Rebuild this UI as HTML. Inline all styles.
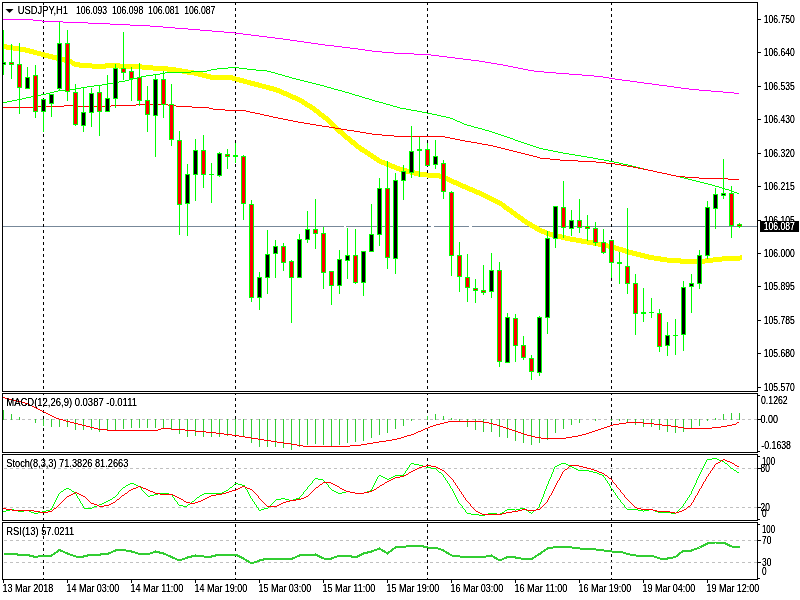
<!DOCTYPE html>
<html><head><meta charset="utf-8"><title>USDJPY,H1</title>
<style>
html,body{margin:0;padding:0;background:#fff;}
body{width:800px;height:600px;overflow:hidden;}
svg{display:block;}
text{font-family:"Liberation Sans",Arial,sans-serif;font-size:10px;}
.tx{filter:url(#tf);}
</style></head><body>
<svg width="800" height="600" viewBox="0 0 800 600">
<rect x="0" y="0" width="800" height="600" fill="#fff"/>
<defs><filter id="tf" x="0" y="0" width="800" height="600" filterUnits="userSpaceOnUse" color-interpolation-filters="sRGB"><feComponentTransfer><feFuncA type="linear" slope="1.55" intercept="-0.08"/></feComponentTransfer></filter><clipPath id="cp"><rect x="3" y="3" width="754" height="577"/></clipPath></defs>
<g clip-path="url(#cp)">
<g shape-rendering="crispEdges">
<rect x="3" y="226" width="757" height="1" fill="#778899"/>
<rect x="344" y="226" width="2" height="1" fill="#fff"/>
<rect x="431" y="226" width="3" height="1" fill="#fff"/>
<rect x="469" y="226" width="3" height="1" fill="#fff"/>
<line x1="43.5" y1="2" x2="43.5" y2="580" stroke="#000" stroke-width="1" stroke-dasharray="3 3"/>
<line x1="235.5" y1="2" x2="235.5" y2="580" stroke="#000" stroke-width="1" stroke-dasharray="3 3"/>
<line x1="427.5" y1="2" x2="427.5" y2="580" stroke="#000" stroke-width="1" stroke-dasharray="3 3"/>
<line x1="611.5" y1="2" x2="611.5" y2="580" stroke="#000" stroke-width="1" stroke-dasharray="3 3"/>
</g>
<g shape-rendering="crispEdges"><path d="M1 44h1v5h-1zM2 44h1v5h-1zM3 44h1v5h-1zM4 44h1v5h-1zM5 44h1v5h-1zM6 44h1v6h-1zM7 45h1v5h-1zM8 45h1v5h-1zM9 45h1v5h-1zM10 45h1v5h-1zM11 45h1v5h-1zM12 45h1v5h-1zM13 46h1v5h-1zM14 46h1v5h-1zM15 46h1v5h-1zM16 46h1v5h-1zM17 46h1v5h-1zM18 46h1v5h-1zM19 47h1v5h-1zM20 47h1v5h-1zM21 47h1v5h-1zM22 47h1v5h-1zM23 47h1v5h-1zM24 47h1v5h-1zM25 47h1v6h-1zM26 48h1v5h-1zM27 48h1v5h-1zM28 48h1v5h-1zM29 48h1v6h-1zM30 49h1v5h-1zM31 49h1v5h-1zM32 49h1v5h-1zM33 49h1v6h-1zM34 50h1v5h-1zM35 50h1v5h-1zM36 50h1v5h-1zM37 51h1v5h-1zM38 51h1v5h-1zM39 51h1v5h-1zM40 51h1v5h-1zM41 52h1v5h-1zM42 52h1v5h-1zM43 52h1v5h-1zM44 52h1v6h-1zM45 53h1v5h-1zM46 53h1v5h-1zM47 53h1v5h-1zM48 53h1v6h-1zM49 54h1v5h-1zM50 54h1v5h-1zM51 54h1v5h-1zM52 54h1v6h-1zM53 55h1v5h-1zM54 55h1v5h-1zM55 55h1v5h-1zM56 55h1v6h-1zM57 56h1v5h-1zM58 56h1v5h-1zM59 56h1v5h-1zM60 56h1v6h-1zM61 57h1v5h-1zM62 57h1v5h-1zM63 57h1v5h-1zM64 57h1v6h-1zM65 58h1v5h-1zM66 58h1v5h-1zM67 58h1v5h-1zM68 58h1v6h-1zM69 59h1v5h-1zM70 59h1v5h-1zM71 59h1v6h-1zM72 60h1v6h-1zM73 61h1v5h-1zM74 61h1v6h-1zM75 62h1v5h-1zM76 62h1v5h-1zM77 62h1v5h-1zM78 62h1v5h-1zM79 62h1v6h-1zM80 63h1v5h-1zM81 63h1v5h-1zM82 63h1v5h-1zM83 63h1v5h-1zM84 63h1v5h-1zM85 63h1v5h-1zM86 63h1v5h-1zM87 63h1v5h-1zM88 63h1v5h-1zM89 63h1v5h-1zM90 63h1v5h-1zM91 63h1v5h-1zM92 64h1v5h-1zM93 64h1v5h-1zM94 64h1v5h-1zM95 64h1v5h-1zM96 64h1v5h-1zM97 64h1v5h-1zM98 64h1v5h-1zM99 64h1v5h-1zM100 64h1v5h-1zM101 64h1v5h-1zM102 64h1v5h-1zM103 64h1v5h-1zM104 64h1v5h-1zM105 63h1v6h-1zM106 63h1v5h-1zM107 63h1v5h-1zM108 63h1v5h-1zM109 63h1v5h-1zM110 63h1v5h-1zM111 63h1v5h-1zM112 63h1v5h-1zM113 63h1v5h-1zM114 63h1v5h-1zM115 63h1v5h-1zM116 63h1v5h-1zM117 63h1v5h-1zM118 63h1v5h-1zM119 63h1v6h-1zM120 64h1v5h-1zM121 64h1v5h-1zM122 64h1v5h-1zM123 64h1v5h-1zM124 64h1v5h-1zM125 64h1v5h-1zM126 64h1v5h-1zM127 64h1v5h-1zM128 64h1v5h-1zM129 64h1v5h-1zM130 64h1v5h-1zM131 64h1v5h-1zM132 64h1v5h-1zM133 64h1v5h-1zM134 64h1v5h-1zM135 64h1v5h-1zM136 64h1v5h-1zM137 64h1v5h-1zM138 64h1v5h-1zM139 64h1v5h-1zM140 64h1v5h-1zM141 64h1v5h-1zM142 65h1v5h-1zM143 65h1v5h-1zM144 65h1v5h-1zM145 65h1v5h-1zM146 65h1v5h-1zM147 65h1v5h-1zM148 65h1v5h-1zM149 65h1v5h-1zM150 65h1v5h-1zM151 65h1v5h-1zM152 65h1v5h-1zM153 66h1v5h-1zM154 66h1v5h-1zM155 66h1v5h-1zM156 66h1v5h-1zM157 66h1v5h-1zM158 66h1v5h-1zM159 66h1v5h-1zM160 66h1v5h-1zM161 66h1v5h-1zM162 66h1v5h-1zM163 66h1v5h-1zM164 66h1v5h-1zM165 66h1v5h-1zM166 66h1v5h-1zM167 66h1v6h-1zM168 67h1v5h-1zM169 67h1v5h-1zM170 67h1v5h-1zM171 67h1v5h-1zM172 67h1v5h-1zM173 67h1v5h-1zM174 67h1v5h-1zM175 67h1v6h-1zM176 68h1v5h-1zM177 68h1v5h-1zM178 68h1v5h-1zM179 68h1v5h-1zM180 68h1v5h-1zM181 68h1v5h-1zM182 69h1v5h-1zM183 69h1v5h-1zM184 69h1v5h-1zM185 69h1v5h-1zM186 69h1v5h-1zM187 69h1v6h-1zM188 70h1v5h-1zM189 70h1v5h-1zM190 70h1v5h-1zM191 70h1v5h-1zM192 70h1v5h-1zM193 70h1v5h-1zM194 71h1v5h-1zM195 71h1v5h-1zM196 71h1v5h-1zM197 71h1v5h-1zM198 71h1v6h-1zM199 72h1v5h-1zM200 72h1v5h-1zM201 72h1v5h-1zM202 72h1v6h-1zM203 73h1v5h-1zM204 73h1v5h-1zM205 73h1v5h-1zM206 73h1v6h-1zM207 74h1v5h-1zM208 74h1v5h-1zM209 74h1v5h-1zM210 74h1v6h-1zM211 75h1v5h-1zM212 75h1v5h-1zM213 75h1v5h-1zM214 75h1v5h-1zM215 75h1v5h-1zM216 75h1v5h-1zM217 75h1v5h-1zM218 75h1v5h-1zM219 75h1v5h-1zM220 75h1v5h-1zM221 75h1v5h-1zM222 75h1v5h-1zM223 75h1v5h-1zM224 75h1v5h-1zM225 75h1v5h-1zM226 75h1v5h-1zM227 75h1v5h-1zM228 75h1v5h-1zM229 75h1v5h-1zM230 75h1v5h-1zM231 75h1v5h-1zM232 75h1v6h-1zM233 76h1v5h-1zM234 76h1v5h-1zM235 76h1v5h-1zM236 77h1v5h-1zM237 77h1v5h-1zM238 77h1v5h-1zM239 77h1v6h-1zM240 78h1v5h-1zM241 78h1v5h-1zM242 78h1v5h-1zM243 78h1v6h-1zM244 79h1v5h-1zM245 79h1v5h-1zM246 79h1v5h-1zM247 80h1v5h-1zM248 80h1v5h-1zM249 80h1v5h-1zM250 80h1v6h-1zM251 81h1v5h-1zM252 81h1v5h-1zM253 81h1v5h-1zM254 81h1v6h-1zM255 82h1v5h-1zM256 82h1v5h-1zM257 82h1v5h-1zM258 82h1v6h-1zM259 83h1v5h-1zM260 83h1v5h-1zM261 83h1v5h-1zM262 84h1v5h-1zM263 84h1v5h-1zM264 84h1v5h-1zM265 84h1v5h-1zM266 85h1v5h-1zM267 85h1v5h-1zM268 85h1v5h-1zM269 85h1v6h-1zM270 86h1v5h-1zM271 86h1v5h-1zM272 86h1v5h-1zM273 86h1v6h-1zM274 87h1v5h-1zM275 87h1v5h-1zM276 87h1v6h-1zM277 88h1v5h-1zM278 88h1v5h-1zM279 88h1v6h-1zM280 89h1v5h-1zM281 89h1v6h-1zM282 90h1v5h-1zM283 90h1v6h-1zM284 91h1v5h-1zM285 91h1v5h-1zM286 91h1v6h-1zM287 92h1v5h-1zM288 92h1v6h-1zM289 93h1v5h-1zM290 93h1v6h-1zM291 94h1v5h-1zM292 94h1v6h-1zM293 95h1v5h-1zM294 95h1v5h-1zM295 95h1v6h-1zM296 96h1v5h-1zM297 96h1v6h-1zM298 97h1v5h-1zM299 97h1v6h-1zM300 98h1v5h-1zM301 98h1v6h-1zM302 99h1v6h-1zM303 99h1v6h-1zM304 100h1v6h-1zM305 101h1v6h-1zM306 101h1v6h-1zM307 102h1v6h-1zM308 103h1v5h-1zM309 103h1v6h-1zM310 104h1v6h-1zM311 104h1v6h-1zM312 105h1v6h-1zM313 106h1v6h-1zM314 106h1v7h-1zM315 107h1v6h-1zM316 108h1v6h-1zM317 109h1v6h-1zM318 109h1v7h-1zM319 110h1v7h-1zM320 111h1v6h-1zM321 112h1v6h-1zM322 113h1v6h-1zM323 113h1v7h-1zM324 114h1v6h-1zM325 115h1v6h-1zM326 116h1v6h-1zM327 116h1v7h-1zM328 117h1v7h-1zM329 118h1v7h-1zM330 119h1v7h-1zM331 120h1v7h-1zM332 121h1v7h-1zM333 122h1v7h-1zM334 123h1v7h-1zM335 124h1v7h-1zM336 125h1v7h-1zM337 126h1v7h-1zM338 127h1v7h-1zM339 128h1v6h-1zM340 129h1v6h-1zM341 130h1v6h-1zM342 130h1v7h-1zM343 131h1v7h-1zM344 132h1v7h-1zM345 133h1v7h-1zM346 134h1v6h-1zM347 135h1v6h-1zM348 136h1v6h-1zM349 136h1v7h-1zM350 137h1v7h-1zM351 138h1v7h-1zM352 139h1v6h-1zM353 140h1v6h-1zM354 140h1v7h-1zM355 141h1v7h-1zM356 142h1v7h-1zM357 143h1v6h-1zM358 144h1v6h-1zM359 145h1v6h-1zM360 145h1v7h-1zM361 146h1v6h-1zM362 147h1v6h-1zM363 147h1v6h-1zM364 148h1v6h-1zM365 149h1v6h-1zM366 149h1v6h-1zM367 150h1v6h-1zM368 151h1v6h-1zM369 151h1v6h-1zM370 152h1v6h-1zM371 153h1v6h-1zM372 153h1v6h-1zM373 154h1v6h-1zM374 155h1v6h-1zM375 155h1v6h-1zM376 156h1v6h-1zM377 157h1v6h-1zM378 157h1v6h-1zM379 158h1v6h-1zM380 159h1v5h-1zM381 159h1v6h-1zM382 160h1v5h-1zM383 160h1v5h-1zM384 160h1v6h-1zM385 161h1v5h-1zM386 161h1v6h-1zM387 162h1v5h-1zM388 162h1v5h-1zM389 162h1v6h-1zM390 163h1v5h-1zM391 163h1v6h-1zM392 164h1v5h-1zM393 164h1v5h-1zM394 164h1v6h-1zM395 165h1v5h-1zM396 165h1v6h-1zM397 166h1v5h-1zM398 166h1v5h-1zM399 166h1v6h-1zM400 167h1v5h-1zM401 167h1v5h-1zM402 167h1v6h-1zM403 168h1v5h-1zM404 168h1v5h-1zM405 168h1v5h-1zM406 168h1v6h-1zM407 169h1v5h-1zM408 169h1v5h-1zM409 169h1v5h-1zM410 169h1v6h-1zM411 170h1v5h-1zM412 170h1v5h-1zM413 170h1v5h-1zM414 170h1v6h-1zM415 171h1v5h-1zM416 171h1v5h-1zM417 171h1v5h-1zM418 171h1v6h-1zM419 172h1v5h-1zM420 172h1v5h-1zM421 172h1v5h-1zM422 172h1v5h-1zM423 172h1v5h-1zM424 172h1v5h-1zM425 172h1v5h-1zM426 172h1v5h-1zM427 173h1v5h-1zM428 173h1v5h-1zM429 173h1v5h-1zM430 173h1v5h-1zM431 173h1v5h-1zM432 173h1v5h-1zM433 173h1v5h-1zM434 173h1v5h-1zM435 173h1v5h-1zM436 173h1v5h-1zM437 173h1v5h-1zM438 173h1v5h-1zM439 173h1v6h-1zM440 174h1v5h-1zM441 174h1v5h-1zM442 174h1v6h-1zM443 175h1v5h-1zM444 175h1v6h-1zM445 176h1v5h-1zM446 176h1v5h-1zM447 176h1v6h-1zM448 177h1v5h-1zM449 177h1v6h-1zM450 178h1v5h-1zM451 178h1v6h-1zM452 179h1v5h-1zM453 179h1v6h-1zM454 180h1v5h-1zM455 180h1v5h-1zM456 180h1v6h-1zM457 181h1v5h-1zM458 181h1v6h-1zM459 182h1v5h-1zM460 182h1v6h-1zM461 183h1v5h-1zM462 183h1v6h-1zM463 184h1v5h-1zM464 184h1v5h-1zM465 184h1v6h-1zM466 185h1v5h-1zM467 185h1v6h-1zM468 186h1v5h-1zM469 186h1v6h-1zM470 187h1v5h-1zM471 187h1v5h-1zM472 187h1v6h-1zM473 188h1v5h-1zM474 188h1v6h-1zM475 189h1v5h-1zM476 189h1v6h-1zM477 190h1v5h-1zM478 190h1v5h-1zM479 190h1v6h-1zM480 191h1v5h-1zM481 191h1v6h-1zM482 192h1v5h-1zM483 192h1v6h-1zM484 193h1v5h-1zM485 193h1v6h-1zM486 194h1v5h-1zM487 194h1v6h-1zM488 195h1v5h-1zM489 195h1v6h-1zM490 196h1v5h-1zM491 196h1v6h-1zM492 197h1v5h-1zM493 197h1v6h-1zM494 198h1v5h-1zM495 198h1v6h-1zM496 199h1v5h-1zM497 199h1v6h-1zM498 200h1v5h-1zM499 200h1v6h-1zM500 201h1v5h-1zM501 201h1v6h-1zM502 202h1v6h-1zM503 203h1v6h-1zM504 203h1v7h-1zM505 204h1v6h-1zM506 205h1v6h-1zM507 206h1v6h-1zM508 206h1v6h-1zM509 207h1v6h-1zM510 208h1v6h-1zM511 208h1v7h-1zM512 209h1v6h-1zM513 210h1v6h-1zM514 211h1v6h-1zM515 211h1v7h-1zM516 212h1v6h-1zM517 213h1v6h-1zM518 214h1v6h-1zM519 214h1v6h-1zM520 215h1v6h-1zM521 216h1v6h-1zM522 216h1v7h-1zM523 217h1v6h-1zM524 218h1v6h-1zM525 219h1v6h-1zM526 219h1v6h-1zM527 220h1v6h-1zM528 221h1v5h-1zM529 221h1v6h-1zM530 222h1v6h-1zM531 222h1v6h-1zM532 223h1v6h-1zM533 224h1v5h-1zM534 224h1v6h-1zM535 225h1v6h-1zM536 225h1v6h-1zM537 226h1v6h-1zM538 226h1v6h-1zM539 227h1v6h-1zM540 228h1v5h-1zM541 228h1v6h-1zM542 229h1v5h-1zM543 229h1v5h-1zM544 229h1v6h-1zM545 230h1v5h-1zM546 230h1v6h-1zM547 231h1v5h-1zM548 231h1v5h-1zM549 231h1v6h-1zM550 232h1v5h-1zM551 232h1v5h-1zM552 232h1v6h-1zM553 233h1v5h-1zM554 233h1v5h-1zM555 233h1v5h-1zM556 233h1v5h-1zM557 234h1v5h-1zM558 234h1v5h-1zM559 234h1v5h-1zM560 234h1v5h-1zM561 234h1v6h-1zM562 235h1v5h-1zM563 235h1v5h-1zM564 235h1v5h-1zM565 235h1v6h-1zM566 236h1v5h-1zM567 236h1v5h-1zM568 236h1v5h-1zM569 236h1v5h-1zM570 237h1v5h-1zM571 237h1v5h-1zM572 237h1v5h-1zM573 237h1v5h-1zM574 237h1v5h-1zM575 237h1v5h-1zM576 238h1v5h-1zM577 238h1v5h-1zM578 238h1v5h-1zM579 238h1v5h-1zM580 238h1v5h-1zM581 238h1v6h-1zM582 239h1v5h-1zM583 239h1v5h-1zM584 239h1v5h-1zM585 239h1v5h-1zM586 239h1v5h-1zM587 239h1v6h-1zM588 240h1v5h-1zM589 240h1v5h-1zM590 240h1v5h-1zM591 240h1v5h-1zM592 240h1v5h-1zM593 241h1v5h-1zM594 241h1v5h-1zM595 241h1v5h-1zM596 241h1v5h-1zM597 241h1v5h-1zM598 242h1v5h-1zM599 242h1v5h-1zM600 242h1v5h-1zM601 242h1v5h-1zM602 242h1v5h-1zM603 243h1v5h-1zM604 243h1v5h-1zM605 243h1v5h-1zM606 243h1v5h-1zM607 243h1v5h-1zM608 244h1v5h-1zM609 244h1v5h-1zM610 244h1v5h-1zM611 244h1v5h-1zM612 244h1v6h-1zM613 245h1v5h-1zM614 245h1v5h-1zM615 245h1v6h-1zM616 246h1v5h-1zM617 246h1v5h-1zM618 246h1v6h-1zM619 247h1v5h-1zM620 247h1v5h-1zM621 247h1v5h-1zM622 247h1v6h-1zM623 248h1v5h-1zM624 248h1v5h-1zM625 248h1v6h-1zM626 249h1v5h-1zM627 249h1v5h-1zM628 249h1v6h-1zM629 250h1v5h-1zM630 250h1v5h-1zM631 250h1v5h-1zM632 250h1v6h-1zM633 251h1v5h-1zM634 251h1v5h-1zM635 251h1v5h-1zM636 251h1v6h-1zM637 252h1v5h-1zM638 252h1v5h-1zM639 252h1v5h-1zM640 252h1v6h-1zM641 253h1v5h-1zM642 253h1v5h-1zM643 253h1v5h-1zM644 253h1v6h-1zM645 254h1v5h-1zM646 254h1v5h-1zM647 254h1v5h-1zM648 254h1v6h-1zM649 255h1v5h-1zM650 255h1v5h-1zM651 255h1v5h-1zM652 255h1v5h-1zM653 255h1v5h-1zM654 256h1v5h-1zM655 256h1v5h-1zM656 256h1v5h-1zM657 256h1v5h-1zM658 256h1v5h-1zM659 256h1v5h-1zM660 256h1v6h-1zM661 257h1v5h-1zM662 257h1v5h-1zM663 257h1v5h-1zM664 257h1v5h-1zM665 257h1v5h-1zM666 257h1v5h-1zM667 258h1v5h-1zM668 258h1v5h-1zM669 258h1v5h-1zM670 258h1v5h-1zM671 258h1v5h-1zM672 258h1v5h-1zM673 258h1v5h-1zM674 258h1v5h-1zM675 258h1v5h-1zM676 258h1v5h-1zM677 258h1v5h-1zM678 258h1v5h-1zM679 258h1v5h-1zM680 258h1v6h-1zM681 259h1v5h-1zM682 259h1v5h-1zM683 259h1v5h-1zM684 259h1v5h-1zM685 259h1v5h-1zM686 259h1v5h-1zM687 259h1v5h-1zM688 259h1v5h-1zM689 259h1v5h-1zM690 259h1v5h-1zM691 259h1v5h-1zM692 259h1v5h-1zM693 259h1v5h-1zM694 259h1v5h-1zM695 259h1v5h-1zM696 259h1v5h-1zM697 259h1v5h-1zM698 259h1v5h-1zM699 259h1v5h-1zM700 259h1v5h-1zM701 259h1v5h-1zM702 259h1v5h-1zM703 259h1v5h-1zM704 259h1v5h-1zM705 258h1v5h-1zM706 258h1v5h-1zM707 258h1v5h-1zM708 258h1v5h-1zM709 258h1v5h-1zM710 258h1v5h-1zM711 258h1v5h-1zM712 258h1v5h-1zM713 257h1v5h-1zM714 257h1v5h-1zM715 257h1v5h-1zM716 257h1v5h-1zM717 257h1v5h-1zM718 257h1v5h-1zM719 257h1v5h-1zM720 257h1v5h-1zM721 257h1v5h-1zM722 256h1v5h-1zM723 256h1v5h-1zM724 256h1v5h-1zM725 256h1v5h-1zM726 256h1v5h-1zM727 256h1v5h-1zM728 256h1v5h-1zM729 256h1v5h-1zM730 256h1v5h-1zM731 256h1v5h-1zM732 256h1v5h-1zM733 256h1v5h-1zM734 256h1v5h-1zM735 256h1v5h-1zM736 256h1v5h-1zM737 256h1v5h-1zM738 256h1v5h-1zM739 256h1v5h-1zM740 255h1v5h-1zM741 255h1v5h-1z" fill="#FFFF00"/></g>
<g shape-rendering="crispEdges" stroke-linejoin="round" stroke-linecap="butt">
<path d="M2 19h31v1h-31zM33 20h9v1h-9zM42 21h21v1h-21zM63 22h25v1h-25zM88 23h22v1h-22zM110 24h20v1h-20zM130 25h20v1h-20zM150 26h13v1h-13zM163 27h12v1h-12zM175 28h13v1h-13zM188 29h12v1h-12zM200 30h12v1h-12zM212 31h12v1h-12zM224 32h11v1h-11zM235 33h8v1h-8zM243 34h8v1h-8zM251 35h8v1h-8zM259 36h8v1h-8zM267 37h8v1h-8zM275 38h8v1h-8zM283 39h7v1h-7zM290 40h7v1h-7zM297 41h7v1h-7zM304 42h7v1h-7zM311 43h7v1h-7zM318 44h7v1h-7zM325 45h9v1h-9zM334 46h8v1h-8zM342 47h8v1h-8zM350 48h8v1h-8zM358 49h7v1h-7zM365 50h7v1h-7zM372 51h10v1h-10zM382 52h12v1h-12zM394 53h20v1h-20zM414 54h17v1h-17zM431 55h8v1h-8zM439 56h8v1h-8zM447 57h8v1h-8zM455 58h8v1h-8zM463 59h8v1h-8zM471 60h8v1h-8zM479 61h6v1h-6zM485 62h6v1h-6zM491 63h6v1h-6zM497 64h6v1h-6zM503 65h5v1h-5zM508 66h5v1h-5zM513 67h5v1h-5zM518 68h5v1h-5zM523 69h5v1h-5zM528 70h6v1h-6zM534 71h10v1h-10zM544 72h12v1h-12zM556 73h13v1h-13zM569 74h13v1h-13zM582 75h12v1h-12zM594 76h9v1h-9zM603 77h6v1h-6zM609 78h6v1h-6zM615 79h7v1h-7zM622 80h8v1h-8zM630 81h7v1h-7zM637 82h7v1h-7zM644 83h8v1h-8zM652 84h7v1h-7zM659 85h8v1h-8zM667 86h7v1h-7zM674 87h7v1h-7zM681 88h8v1h-8zM689 89h10v1h-10zM699 90h12v1h-12zM711 91h12v1h-12zM723 92h11v1h-11zM734 93h5v1h-5z" fill="#FF00FF"/>
<path d="M2 102h5v1h-5zM7 101h5v1h-5zM12 100h5v1h-5zM17 99h5v1h-5zM22 98h4v1h-4zM26 97h5v1h-5zM31 96h5v1h-5zM36 95h5v1h-5zM41 94h5v1h-5zM46 93h4v1h-4zM50 92h4v1h-4zM54 91h4v1h-4zM58 90h8v1h-8zM66 89h10v1h-10zM76 88h5v1h-5zM81 87h6v1h-6zM87 86h7v1h-7zM94 85h8v1h-8zM102 84h5v1h-5zM107 83h6v1h-6zM113 82h6v1h-6zM119 81h6v1h-6zM125 80h4v1h-4zM129 79h4v1h-4zM133 78h4v1h-4zM137 77h4v1h-4zM141 76h5v1h-5zM146 75h7v1h-7zM153 74h7v1h-7zM160 73h5v1h-5zM165 72h26v1h-26zM191 71h16v1h-16zM207 70h4v1h-4zM211 69h6v1h-6zM217 68h11v1h-11zM228 67h11v1h-11zM239 68h8v1h-8zM247 69h9v1h-9zM256 70h11v1h-11zM267 71h4v1h-4zM271 72h4v1h-4zM275 73h3v1h-3zM278 74h4v1h-4zM282 75h3v1h-3zM285 76h4v1h-4zM289 77h3v1h-3zM292 78h4v1h-4zM296 79h4v1h-4zM300 80h4v1h-4zM304 81h4v1h-4zM308 82h4v1h-4zM312 83h4v1h-4zM316 84h4v1h-4zM320 85h4v1h-4zM324 86h3v1h-3zM327 87h4v1h-4zM331 88h3v1h-3zM334 89h4v1h-4zM338 90h4v1h-4zM342 91h3v1h-3zM345 92h4v1h-4zM349 93h3v1h-3zM352 94h3v1h-3zM355 95h4v1h-4zM359 96h3v1h-3zM362 97h3v1h-3zM365 98h4v1h-4zM369 99h3v1h-3zM372 100h3v1h-3zM375 101h4v1h-4zM379 102h4v1h-4zM383 103h3v1h-3zM386 104h4v1h-4zM390 105h3v1h-3zM393 106h4v1h-4zM397 107h3v1h-3zM400 108h6v1h-6zM406 109h5v1h-5zM411 110h6v1h-6zM417 111h5v1h-5zM422 112h5v1h-5zM427 113h5v1h-5zM432 114h5v1h-5zM437 115h4v1h-4zM441 116h5v1h-5zM446 117h4v1h-4zM450 118h3v1h-3zM453 119h2v1h-2zM455 120h2v1h-2zM457 121h3v1h-3zM460 122h2v1h-2zM462 123h2v1h-2zM464 124h3v1h-3zM467 125h4v1h-4zM471 126h3v1h-3zM474 127h4v1h-4zM478 128h4v1h-4zM482 129h3v1h-3zM485 130h4v1h-4zM489 131h3v1h-3zM492 132h3v1h-3zM495 133h3v1h-3zM498 134h3v1h-3zM501 135h3v1h-3zM504 136h3v1h-3zM507 137h3v1h-3zM510 138h3v1h-3zM513 139h2v1h-2zM515 140h3v1h-3zM518 141h3v1h-3zM521 142h3v1h-3zM524 143h3v1h-3zM527 144h3v1h-3zM530 145h3v1h-3zM533 146h3v1h-3zM536 147h3v1h-3zM539 148h4v1h-4zM543 149h5v1h-5zM548 150h5v1h-5zM553 151h5v1h-5zM558 152h5v1h-5zM563 153h6v1h-6zM569 154h6v1h-6zM575 155h6v1h-6zM581 156h6v1h-6zM587 157h6v1h-6zM593 158h5v1h-5zM598 159h6v1h-6zM604 160h5v1h-5zM609 161h5v1h-5zM614 162h5v1h-5zM619 163h4v1h-4zM623 164h5v1h-5zM628 165h4v1h-4zM632 166h4v1h-4zM636 167h4v1h-4zM640 168h4v1h-4zM644 169h4v1h-4zM648 170h5v1h-5zM653 171h4v1h-4zM657 172h5v1h-5zM662 173h5v1h-5zM667 174h4v1h-4zM671 175h5v1h-5zM676 176h4v1h-4zM680 177h4v1h-4zM684 178h4v1h-4zM688 179h4v1h-4zM692 180h4v1h-4zM696 181h4v1h-4zM700 182h4v1h-4zM704 183h4v1h-4zM708 184h4v1h-4zM712 185h3v1h-3zM715 186h4v1h-4zM719 187h3v1h-3zM722 188h3v1h-3zM725 189h4v1h-4zM729 190h3v1h-3zM732 191h2v1h-2zM734 192h3v1h-3zM737 193h2v1h-2z" fill="#00FF00"/>
<path d="M2 107h31v1h-31zM33 106h31v1h-31zM64 105h9v1h-9zM73 106h38v1h-38zM111 105h25v1h-25zM136 104h32v1h-32zM168 105h8v1h-8zM176 106h16v1h-16zM192 107h17v1h-17zM209 108h4v1h-4zM213 109h12v1h-12zM225 110h21v1h-21zM246 111h4v1h-4zM250 112h5v1h-5zM255 113h5v1h-5zM260 114h4v1h-4zM264 115h5v1h-5zM269 116h4v1h-4zM273 117h5v1h-5zM278 118h5v1h-5zM283 119h5v1h-5zM288 120h5v1h-5zM293 121h5v1h-5zM298 122h6v1h-6zM304 123h6v1h-6zM310 124h6v1h-6zM316 125h6v1h-6zM322 126h7v1h-7zM329 127h6v1h-6zM335 128h6v1h-6zM341 129h6v1h-6zM347 130h7v1h-7zM354 131h6v1h-6zM360 132h6v1h-6zM366 133h6v1h-6zM372 134h10v1h-10zM382 135h12v1h-12zM394 136h51v1h-51zM445 137h5v1h-5zM450 138h5v1h-5zM455 139h5v1h-5zM460 140h5v1h-5zM465 141h6v1h-6zM471 142h6v1h-6zM477 143h5v1h-5zM482 144h6v1h-6zM488 145h5v1h-5zM493 146h4v1h-4zM497 147h4v1h-4zM501 148h4v1h-4zM505 149h4v1h-4zM509 150h4v1h-4zM513 151h4v1h-4zM517 152h4v1h-4zM521 153h4v1h-4zM525 154h4v1h-4zM529 155h4v1h-4zM533 156h4v1h-4zM537 157h3v1h-3zM540 158h10v1h-10zM550 159h10v1h-10zM560 160h18v1h-18zM578 161h18v1h-18zM596 162h10v1h-10zM606 163h9v1h-9zM615 164h6v1h-6zM621 165h6v1h-6zM627 166h6v1h-6zM633 167h5v1h-5zM638 168h5v1h-5zM643 169h5v1h-5zM648 170h5v1h-5zM653 171h4v1h-4zM657 172h5v1h-5zM662 173h5v1h-5zM667 174h4v1h-4zM671 175h5v1h-5zM676 176h9v1h-9zM685 177h14v1h-14zM699 178h29v1h-29zM728 179h11v1h-11z" fill="#FF0000"/>
</g>
<g shape-rendering="crispEdges">
<rect x="3" y="30" width="1" height="45" fill="#00FF00"/>
<rect x="1" y="62" width="5" height="3" fill="#00FF00"/>
<rect x="2" y="63" width="3" height="1" fill="#000"/>
<rect x="11" y="44" width="1" height="35" fill="#00FF00"/>
<rect x="9" y="62" width="5" height="3" fill="#00FF00"/>
<rect x="10" y="63" width="3" height="1" fill="#FF0000"/>
<rect x="19" y="43" width="1" height="71" fill="#00FF00"/>
<rect x="17" y="64" width="5" height="24" fill="#00FF00"/>
<rect x="18" y="65" width="3" height="22" fill="#FF0000"/>
<rect x="27" y="67" width="1" height="22" fill="#00FF00"/>
<rect x="25" y="77" width="5" height="12" fill="#00FF00"/>
<rect x="26" y="78" width="3" height="10" fill="#000"/>
<rect x="35" y="65" width="1" height="53" fill="#00FF00"/>
<rect x="33" y="75" width="5" height="37" fill="#00FF00"/>
<rect x="34" y="76" width="3" height="35" fill="#FF0000"/>
<rect x="43" y="99" width="1" height="33" fill="#00FF00"/>
<rect x="41" y="99" width="5" height="13" fill="#00FF00"/>
<rect x="42" y="100" width="3" height="11" fill="#000"/>
<rect x="51" y="94" width="1" height="23" fill="#00FF00"/>
<rect x="49" y="94" width="5" height="10" fill="#00FF00"/>
<rect x="50" y="95" width="3" height="8" fill="#000"/>
<rect x="59" y="22" width="1" height="68" fill="#00FF00"/>
<rect x="57" y="43" width="5" height="46" fill="#00FF00"/>
<rect x="58" y="44" width="3" height="44" fill="#000"/>
<rect x="67" y="30" width="1" height="71" fill="#00FF00"/>
<rect x="65" y="43" width="5" height="49" fill="#00FF00"/>
<rect x="66" y="44" width="3" height="47" fill="#FF0000"/>
<rect x="75" y="84" width="1" height="42" fill="#00FF00"/>
<rect x="73" y="92" width="5" height="33" fill="#00FF00"/>
<rect x="74" y="93" width="3" height="31" fill="#FF0000"/>
<rect x="83" y="87" width="1" height="45" fill="#00FF00"/>
<rect x="81" y="112" width="5" height="14" fill="#00FF00"/>
<rect x="82" y="113" width="3" height="12" fill="#000"/>
<rect x="91" y="88" width="1" height="39" fill="#00FF00"/>
<rect x="89" y="93" width="5" height="20" fill="#00FF00"/>
<rect x="90" y="94" width="3" height="18" fill="#000"/>
<rect x="99" y="85" width="1" height="51" fill="#00FF00"/>
<rect x="97" y="92" width="5" height="20" fill="#00FF00"/>
<rect x="98" y="93" width="3" height="18" fill="#FF0000"/>
<rect x="107" y="75" width="1" height="36" fill="#00FF00"/>
<rect x="105" y="98" width="5" height="14" fill="#00FF00"/>
<rect x="106" y="99" width="3" height="12" fill="#000"/>
<rect x="115" y="64" width="1" height="44" fill="#00FF00"/>
<rect x="113" y="68" width="5" height="31" fill="#00FF00"/>
<rect x="114" y="69" width="3" height="29" fill="#000"/>
<rect x="123" y="32" width="1" height="48" fill="#00FF00"/>
<rect x="121" y="68" width="5" height="5" fill="#00FF00"/>
<rect x="122" y="69" width="3" height="3" fill="#FF0000"/>
<rect x="131" y="67" width="1" height="34" fill="#00FF00"/>
<rect x="129" y="71" width="5" height="8" fill="#00FF00"/>
<rect x="130" y="72" width="3" height="6" fill="#FF0000"/>
<rect x="139" y="63" width="1" height="43" fill="#00FF00"/>
<rect x="137" y="77" width="5" height="24" fill="#00FF00"/>
<rect x="138" y="78" width="3" height="22" fill="#FF0000"/>
<rect x="147" y="86" width="1" height="46" fill="#00FF00"/>
<rect x="145" y="100" width="5" height="15" fill="#00FF00"/>
<rect x="146" y="101" width="3" height="13" fill="#FF0000"/>
<rect x="155" y="74" width="1" height="83" fill="#00FF00"/>
<rect x="153" y="79" width="5" height="37" fill="#00FF00"/>
<rect x="154" y="80" width="3" height="35" fill="#000"/>
<rect x="163" y="71" width="1" height="47" fill="#00FF00"/>
<rect x="161" y="79" width="5" height="26" fill="#00FF00"/>
<rect x="162" y="80" width="3" height="24" fill="#FF0000"/>
<rect x="171" y="84" width="1" height="62" fill="#00FF00"/>
<rect x="169" y="104" width="5" height="36" fill="#00FF00"/>
<rect x="170" y="105" width="3" height="34" fill="#FF0000"/>
<rect x="179" y="131" width="1" height="104" fill="#00FF00"/>
<rect x="177" y="140" width="5" height="65" fill="#00FF00"/>
<rect x="178" y="141" width="3" height="63" fill="#FF0000"/>
<rect x="187" y="164" width="1" height="72" fill="#00FF00"/>
<rect x="185" y="174" width="5" height="30" fill="#00FF00"/>
<rect x="186" y="175" width="3" height="28" fill="#000"/>
<rect x="195" y="139" width="1" height="62" fill="#00FF00"/>
<rect x="193" y="150" width="5" height="25" fill="#00FF00"/>
<rect x="194" y="151" width="3" height="23" fill="#000"/>
<rect x="203" y="135" width="1" height="53" fill="#00FF00"/>
<rect x="201" y="150" width="5" height="25" fill="#00FF00"/>
<rect x="202" y="151" width="3" height="23" fill="#FF0000"/>
<rect x="211" y="163" width="1" height="40" fill="#00FF00"/>
<rect x="209" y="174" width="5" height="1" fill="#00FF00"/>
<rect x="219" y="152" width="1" height="25" fill="#00FF00"/>
<rect x="217" y="153" width="5" height="23" fill="#00FF00"/>
<rect x="218" y="154" width="3" height="21" fill="#000"/>
<rect x="227" y="149" width="1" height="20" fill="#00FF00"/>
<rect x="225" y="154" width="5" height="3" fill="#00FF00"/>
<rect x="226" y="155" width="3" height="1" fill="#FF0000"/>
<rect x="235" y="143" width="1" height="20" fill="#00FF00"/>
<rect x="233" y="155" width="5" height="2" fill="#00FF00"/>
<rect x="243" y="155" width="1" height="65" fill="#00FF00"/>
<rect x="241" y="156" width="5" height="48" fill="#00FF00"/>
<rect x="242" y="157" width="3" height="46" fill="#FF0000"/>
<rect x="251" y="200" width="1" height="102" fill="#00FF00"/>
<rect x="249" y="204" width="5" height="94" fill="#00FF00"/>
<rect x="250" y="205" width="3" height="92" fill="#FF0000"/>
<rect x="259" y="272" width="1" height="38" fill="#00FF00"/>
<rect x="257" y="277" width="5" height="21" fill="#00FF00"/>
<rect x="258" y="278" width="3" height="19" fill="#000"/>
<rect x="267" y="230" width="1" height="64" fill="#00FF00"/>
<rect x="265" y="254" width="5" height="24" fill="#00FF00"/>
<rect x="266" y="255" width="3" height="22" fill="#000"/>
<rect x="275" y="240" width="1" height="38" fill="#00FF00"/>
<rect x="273" y="246" width="5" height="8" fill="#00FF00"/>
<rect x="274" y="247" width="3" height="6" fill="#000"/>
<rect x="283" y="243" width="1" height="28" fill="#00FF00"/>
<rect x="281" y="246" width="5" height="17" fill="#00FF00"/>
<rect x="282" y="247" width="3" height="15" fill="#FF0000"/>
<rect x="291" y="260" width="1" height="63" fill="#00FF00"/>
<rect x="289" y="261" width="5" height="17" fill="#00FF00"/>
<rect x="290" y="262" width="3" height="15" fill="#FF0000"/>
<rect x="299" y="234" width="1" height="43" fill="#00FF00"/>
<rect x="297" y="239" width="5" height="39" fill="#00FF00"/>
<rect x="298" y="240" width="3" height="37" fill="#000"/>
<rect x="307" y="211" width="1" height="32" fill="#00FF00"/>
<rect x="305" y="229" width="5" height="11" fill="#00FF00"/>
<rect x="306" y="230" width="3" height="9" fill="#000"/>
<rect x="315" y="199" width="1" height="50" fill="#00FF00"/>
<rect x="313" y="229" width="5" height="5" fill="#00FF00"/>
<rect x="314" y="230" width="3" height="3" fill="#FF0000"/>
<rect x="323" y="227" width="1" height="62" fill="#00FF00"/>
<rect x="321" y="233" width="5" height="40" fill="#00FF00"/>
<rect x="322" y="234" width="3" height="38" fill="#FF0000"/>
<rect x="331" y="271" width="1" height="34" fill="#00FF00"/>
<rect x="329" y="271" width="5" height="15" fill="#00FF00"/>
<rect x="330" y="272" width="3" height="13" fill="#FF0000"/>
<rect x="339" y="250" width="1" height="44" fill="#00FF00"/>
<rect x="337" y="259" width="5" height="27" fill="#00FF00"/>
<rect x="338" y="260" width="3" height="25" fill="#000"/>
<rect x="347" y="228" width="1" height="51" fill="#00FF00"/>
<rect x="345" y="255" width="5" height="6" fill="#00FF00"/>
<rect x="346" y="256" width="3" height="4" fill="#000"/>
<rect x="355" y="229" width="1" height="55" fill="#00FF00"/>
<rect x="353" y="255" width="5" height="28" fill="#00FF00"/>
<rect x="354" y="256" width="3" height="26" fill="#FF0000"/>
<rect x="363" y="251" width="1" height="45" fill="#00FF00"/>
<rect x="361" y="251" width="5" height="32" fill="#00FF00"/>
<rect x="362" y="252" width="3" height="30" fill="#000"/>
<rect x="371" y="204" width="1" height="48" fill="#00FF00"/>
<rect x="369" y="234" width="5" height="18" fill="#00FF00"/>
<rect x="370" y="235" width="3" height="16" fill="#000"/>
<rect x="379" y="178" width="1" height="68" fill="#00FF00"/>
<rect x="377" y="188" width="5" height="47" fill="#00FF00"/>
<rect x="378" y="189" width="3" height="45" fill="#000"/>
<rect x="387" y="161" width="1" height="108" fill="#00FF00"/>
<rect x="385" y="188" width="5" height="70" fill="#00FF00"/>
<rect x="386" y="189" width="3" height="68" fill="#FF0000"/>
<rect x="395" y="173" width="1" height="101" fill="#00FF00"/>
<rect x="393" y="180" width="5" height="79" fill="#00FF00"/>
<rect x="394" y="181" width="3" height="77" fill="#000"/>
<rect x="403" y="165" width="1" height="35" fill="#00FF00"/>
<rect x="401" y="171" width="5" height="10" fill="#00FF00"/>
<rect x="402" y="172" width="3" height="8" fill="#000"/>
<rect x="411" y="126" width="1" height="52" fill="#00FF00"/>
<rect x="409" y="151" width="5" height="22" fill="#00FF00"/>
<rect x="410" y="152" width="3" height="20" fill="#000"/>
<rect x="419" y="137" width="1" height="40" fill="#00FF00"/>
<rect x="417" y="149" width="5" height="2" fill="#00FF00"/>
<rect x="427" y="143" width="1" height="23" fill="#00FF00"/>
<rect x="425" y="149" width="5" height="17" fill="#00FF00"/>
<rect x="426" y="150" width="3" height="15" fill="#FF0000"/>
<rect x="435" y="140" width="1" height="29" fill="#00FF00"/>
<rect x="433" y="156" width="5" height="9" fill="#00FF00"/>
<rect x="434" y="157" width="3" height="7" fill="#000"/>
<rect x="443" y="160" width="1" height="39" fill="#00FF00"/>
<rect x="441" y="163" width="5" height="29" fill="#00FF00"/>
<rect x="442" y="164" width="3" height="27" fill="#FF0000"/>
<rect x="451" y="191" width="1" height="85" fill="#00FF00"/>
<rect x="449" y="192" width="5" height="64" fill="#00FF00"/>
<rect x="450" y="193" width="3" height="62" fill="#FF0000"/>
<rect x="459" y="242" width="1" height="50" fill="#00FF00"/>
<rect x="457" y="255" width="5" height="22" fill="#00FF00"/>
<rect x="458" y="256" width="3" height="20" fill="#FF0000"/>
<rect x="467" y="254" width="1" height="48" fill="#00FF00"/>
<rect x="465" y="277" width="5" height="11" fill="#00FF00"/>
<rect x="466" y="278" width="3" height="9" fill="#FF0000"/>
<rect x="475" y="279" width="1" height="24" fill="#00FF00"/>
<rect x="473" y="288" width="5" height="3" fill="#00FF00"/>
<rect x="474" y="289" width="3" height="1" fill="#FF0000"/>
<rect x="483" y="265" width="1" height="30" fill="#00FF00"/>
<rect x="481" y="290" width="5" height="3" fill="#00FF00"/>
<rect x="482" y="291" width="3" height="1" fill="#FF0000"/>
<rect x="491" y="253" width="1" height="45" fill="#00FF00"/>
<rect x="489" y="270" width="5" height="22" fill="#00FF00"/>
<rect x="490" y="271" width="3" height="20" fill="#000"/>
<rect x="499" y="262" width="1" height="105" fill="#00FF00"/>
<rect x="497" y="270" width="5" height="92" fill="#00FF00"/>
<rect x="498" y="271" width="3" height="90" fill="#FF0000"/>
<rect x="507" y="313" width="1" height="49" fill="#00FF00"/>
<rect x="505" y="317" width="5" height="46" fill="#00FF00"/>
<rect x="506" y="318" width="3" height="44" fill="#000"/>
<rect x="515" y="314" width="1" height="48" fill="#00FF00"/>
<rect x="513" y="318" width="5" height="28" fill="#00FF00"/>
<rect x="514" y="319" width="3" height="26" fill="#FF0000"/>
<rect x="523" y="336" width="1" height="24" fill="#00FF00"/>
<rect x="521" y="345" width="5" height="13" fill="#00FF00"/>
<rect x="522" y="346" width="3" height="11" fill="#FF0000"/>
<rect x="531" y="355" width="1" height="25" fill="#00FF00"/>
<rect x="529" y="358" width="5" height="14" fill="#00FF00"/>
<rect x="530" y="359" width="3" height="12" fill="#FF0000"/>
<rect x="539" y="316" width="1" height="60" fill="#00FF00"/>
<rect x="537" y="317" width="5" height="56" fill="#00FF00"/>
<rect x="538" y="318" width="3" height="54" fill="#000"/>
<rect x="547" y="231" width="1" height="103" fill="#00FF00"/>
<rect x="545" y="238" width="5" height="80" fill="#00FF00"/>
<rect x="546" y="239" width="3" height="78" fill="#000"/>
<rect x="555" y="206" width="1" height="42" fill="#00FF00"/>
<rect x="553" y="206" width="5" height="33" fill="#00FF00"/>
<rect x="554" y="207" width="3" height="31" fill="#000"/>
<rect x="563" y="181" width="1" height="57" fill="#00FF00"/>
<rect x="561" y="207" width="5" height="21" fill="#00FF00"/>
<rect x="562" y="208" width="3" height="19" fill="#FF0000"/>
<rect x="571" y="210" width="1" height="26" fill="#00FF00"/>
<rect x="569" y="220" width="5" height="9" fill="#00FF00"/>
<rect x="570" y="221" width="3" height="7" fill="#000"/>
<rect x="579" y="199" width="1" height="34" fill="#00FF00"/>
<rect x="577" y="220" width="5" height="8" fill="#00FF00"/>
<rect x="578" y="221" width="3" height="6" fill="#FF0000"/>
<rect x="587" y="215" width="1" height="26" fill="#00FF00"/>
<rect x="585" y="226" width="5" height="3" fill="#00FF00"/>
<rect x="586" y="227" width="3" height="1" fill="#FF0000"/>
<rect x="595" y="222" width="1" height="24" fill="#00FF00"/>
<rect x="593" y="228" width="5" height="15" fill="#00FF00"/>
<rect x="594" y="229" width="3" height="13" fill="#FF0000"/>
<rect x="603" y="229" width="1" height="25" fill="#00FF00"/>
<rect x="601" y="242" width="5" height="11" fill="#00FF00"/>
<rect x="602" y="243" width="3" height="9" fill="#FF0000"/>
<rect x="611" y="240" width="1" height="38" fill="#00FF00"/>
<rect x="609" y="240" width="5" height="23" fill="#00FF00"/>
<rect x="610" y="241" width="3" height="21" fill="#FF0000"/>
<rect x="619" y="252" width="1" height="32" fill="#00FF00"/>
<rect x="617" y="262" width="5" height="2" fill="#00FF00"/>
<rect x="627" y="208" width="1" height="86" fill="#00FF00"/>
<rect x="625" y="266" width="5" height="18" fill="#00FF00"/>
<rect x="626" y="267" width="3" height="16" fill="#FF0000"/>
<rect x="635" y="274" width="1" height="61" fill="#00FF00"/>
<rect x="633" y="283" width="5" height="31" fill="#00FF00"/>
<rect x="634" y="284" width="3" height="29" fill="#FF0000"/>
<rect x="643" y="288" width="1" height="34" fill="#00FF00"/>
<rect x="641" y="312" width="5" height="2" fill="#00FF00"/>
<rect x="651" y="298" width="1" height="20" fill="#00FF00"/>
<rect x="649" y="312" width="5" height="1" fill="#00FF00"/>
<rect x="659" y="309" width="1" height="43" fill="#00FF00"/>
<rect x="657" y="313" width="5" height="34" fill="#00FF00"/>
<rect x="658" y="314" width="3" height="32" fill="#FF0000"/>
<rect x="667" y="322" width="1" height="34" fill="#00FF00"/>
<rect x="665" y="335" width="5" height="11" fill="#00FF00"/>
<rect x="666" y="336" width="3" height="9" fill="#000"/>
<rect x="675" y="319" width="1" height="36" fill="#00FF00"/>
<rect x="673" y="335" width="5" height="1" fill="#00FF00"/>
<rect x="683" y="281" width="1" height="70" fill="#00FF00"/>
<rect x="681" y="287" width="5" height="48" fill="#00FF00"/>
<rect x="682" y="288" width="3" height="46" fill="#000"/>
<rect x="691" y="274" width="1" height="39" fill="#00FF00"/>
<rect x="689" y="283" width="5" height="4" fill="#00FF00"/>
<rect x="690" y="284" width="3" height="2" fill="#000"/>
<rect x="699" y="250" width="1" height="39" fill="#00FF00"/>
<rect x="697" y="255" width="5" height="29" fill="#00FF00"/>
<rect x="698" y="256" width="3" height="27" fill="#000"/>
<rect x="707" y="201" width="1" height="58" fill="#00FF00"/>
<rect x="705" y="207" width="5" height="49" fill="#00FF00"/>
<rect x="706" y="208" width="3" height="47" fill="#000"/>
<rect x="715" y="188" width="1" height="41" fill="#00FF00"/>
<rect x="713" y="194" width="5" height="15" fill="#00FF00"/>
<rect x="714" y="195" width="3" height="13" fill="#000"/>
<rect x="723" y="159" width="1" height="40" fill="#00FF00"/>
<rect x="721" y="193" width="5" height="3" fill="#00FF00"/>
<rect x="722" y="194" width="3" height="1" fill="#000"/>
<rect x="731" y="186" width="1" height="52" fill="#00FF00"/>
<rect x="729" y="193" width="5" height="33" fill="#00FF00"/>
<rect x="730" y="194" width="3" height="31" fill="#FF0000"/>
<rect x="739" y="223" width="1" height="5" fill="#00FF00"/>
<rect x="737" y="224" width="5" height="3" fill="#00FF00"/>
<rect x="738" y="225" width="3" height="1" fill="#FF0000"/>
</g>
</g>
<g shape-rendering="crispEdges">
<rect x="0" y="392" width="800" height="1" fill="#fff"/>
<rect x="0" y="453" width="800" height="1" fill="#fff"/>
<rect x="0" y="521" width="800" height="1" fill="#fff"/>
<rect x="2.5" y="2.5" width="755" height="389" fill="none" stroke="#000" stroke-width="1"/>
<rect x="2.5" y="393.5" width="755" height="59" fill="none" stroke="#000" stroke-width="1"/>
<rect x="2.5" y="454.5" width="755" height="66" fill="none" stroke="#000" stroke-width="1"/>
<rect x="2.5" y="522.5" width="755" height="57" fill="none" stroke="#000" stroke-width="1"/>
<rect x="758" y="19" width="3" height="1" fill="#000"/>
<rect x="758" y="52" width="3" height="1" fill="#000"/>
<rect x="758" y="86" width="3" height="1" fill="#000"/>
<rect x="758" y="119" width="3" height="1" fill="#000"/>
<rect x="758" y="153" width="3" height="1" fill="#000"/>
<rect x="758" y="186" width="3" height="1" fill="#000"/>
<rect x="758" y="220" width="3" height="1" fill="#000"/>
<rect x="758" y="253" width="3" height="1" fill="#000"/>
<rect x="758" y="286" width="3" height="1" fill="#000"/>
<rect x="758" y="320" width="3" height="1" fill="#000"/>
<rect x="758" y="353" width="3" height="1" fill="#000"/>
<rect x="758" y="387" width="3" height="1" fill="#000"/>
<rect x="758" y="419" width="3" height="1" fill="#000"/>
<rect x="758" y="468" width="3" height="1" fill="#000"/>
<rect x="758" y="507" width="3" height="1" fill="#000"/>
<rect x="758" y="540" width="3" height="1" fill="#000"/>
<rect x="758" y="562" width="3" height="1" fill="#000"/>
<rect x="758" y="395" width="2" height="1" fill="#000"/>
<rect x="758" y="451" width="2" height="1" fill="#000"/>
<rect x="758" y="456" width="2" height="1" fill="#000"/>
<rect x="758" y="519" width="2" height="1" fill="#000"/>
<rect x="758" y="524" width="2" height="1" fill="#000"/>
<rect x="758" y="578" width="2" height="1" fill="#000"/>
<rect x="3" y="580" width="1" height="3" fill="#000"/>
<rect x="67" y="580" width="1" height="3" fill="#000"/>
<rect x="131" y="580" width="1" height="3" fill="#000"/>
<rect x="195" y="580" width="1" height="3" fill="#000"/>
<rect x="259" y="580" width="1" height="3" fill="#000"/>
<rect x="323" y="580" width="1" height="3" fill="#000"/>
<rect x="387" y="580" width="1" height="3" fill="#000"/>
<rect x="451" y="580" width="1" height="3" fill="#000"/>
<rect x="515" y="580" width="1" height="3" fill="#000"/>
<rect x="579" y="580" width="1" height="3" fill="#000"/>
<rect x="643" y="580" width="1" height="3" fill="#000"/>
<rect x="707" y="580" width="1" height="3" fill="#000"/>
<line x1="4" y1="419.5" x2="757" y2="419.5" stroke="#C0C0C0" stroke-width="1" stroke-dasharray="3 3"/>
<line x1="4" y1="468.5" x2="757" y2="468.5" stroke="#C0C0C0" stroke-width="1" stroke-dasharray="3 3"/>
<line x1="4" y1="507.5" x2="757" y2="507.5" stroke="#C0C0C0" stroke-width="1" stroke-dasharray="3 3"/>
<line x1="4" y1="540.5" x2="757" y2="540.5" stroke="#C0C0C0" stroke-width="1" stroke-dasharray="3 3"/>
<line x1="4" y1="562.5" x2="757" y2="562.5" stroke="#C0C0C0" stroke-width="1" stroke-dasharray="3 3"/>
</g>
<g shape-rendering="crispEdges">
<rect x="3" y="410" width="1" height="10" fill="#32CD32"/>
<rect x="11" y="414" width="1" height="6" fill="#32CD32"/>
<rect x="19" y="417" width="1" height="3" fill="#32CD32"/>
<rect x="35" y="419" width="1" height="4" fill="#32CD32"/>
<rect x="43" y="419" width="1" height="7" fill="#32CD32"/>
<rect x="51" y="419" width="1" height="8" fill="#32CD32"/>
<rect x="59" y="419" width="1" height="8" fill="#32CD32"/>
<rect x="67" y="419" width="1" height="8" fill="#32CD32"/>
<rect x="75" y="419" width="1" height="11" fill="#32CD32"/>
<rect x="83" y="419" width="1" height="11" fill="#32CD32"/>
<rect x="91" y="419" width="1" height="11" fill="#32CD32"/>
<rect x="99" y="419" width="1" height="13" fill="#32CD32"/>
<rect x="107" y="419" width="1" height="12" fill="#32CD32"/>
<rect x="115" y="419" width="1" height="11" fill="#32CD32"/>
<rect x="123" y="419" width="1" height="10" fill="#32CD32"/>
<rect x="131" y="419" width="1" height="9" fill="#32CD32"/>
<rect x="139" y="419" width="1" height="9" fill="#32CD32"/>
<rect x="147" y="419" width="1" height="9" fill="#32CD32"/>
<rect x="155" y="419" width="1" height="9" fill="#32CD32"/>
<rect x="163" y="419" width="1" height="9" fill="#32CD32"/>
<rect x="171" y="419" width="1" height="11" fill="#32CD32"/>
<rect x="179" y="419" width="1" height="15" fill="#32CD32"/>
<rect x="187" y="419" width="1" height="18" fill="#32CD32"/>
<rect x="195" y="419" width="1" height="17" fill="#32CD32"/>
<rect x="203" y="419" width="1" height="18" fill="#32CD32"/>
<rect x="211" y="419" width="1" height="18" fill="#32CD32"/>
<rect x="219" y="419" width="1" height="18" fill="#32CD32"/>
<rect x="227" y="419" width="1" height="17" fill="#32CD32"/>
<rect x="235" y="419" width="1" height="17" fill="#32CD32"/>
<rect x="243" y="419" width="1" height="18" fill="#32CD32"/>
<rect x="251" y="419" width="1" height="24" fill="#32CD32"/>
<rect x="259" y="419" width="1" height="28" fill="#32CD32"/>
<rect x="267" y="419" width="1" height="28" fill="#32CD32"/>
<rect x="275" y="419" width="1" height="28" fill="#32CD32"/>
<rect x="283" y="419" width="1" height="29" fill="#32CD32"/>
<rect x="291" y="419" width="1" height="31" fill="#32CD32"/>
<rect x="299" y="419" width="1" height="28" fill="#32CD32"/>
<rect x="307" y="419" width="1" height="26" fill="#32CD32"/>
<rect x="315" y="419" width="1" height="25" fill="#32CD32"/>
<rect x="323" y="419" width="1" height="26" fill="#32CD32"/>
<rect x="331" y="419" width="1" height="27" fill="#32CD32"/>
<rect x="339" y="419" width="1" height="26" fill="#32CD32"/>
<rect x="347" y="419" width="1" height="24" fill="#32CD32"/>
<rect x="355" y="419" width="1" height="23" fill="#32CD32"/>
<rect x="363" y="419" width="1" height="22" fill="#32CD32"/>
<rect x="371" y="419" width="1" height="19" fill="#32CD32"/>
<rect x="379" y="419" width="1" height="16" fill="#32CD32"/>
<rect x="387" y="419" width="1" height="14" fill="#32CD32"/>
<rect x="395" y="419" width="1" height="10" fill="#32CD32"/>
<rect x="403" y="419" width="1" height="7" fill="#32CD32"/>
<rect x="411" y="419" width="1" height="2" fill="#32CD32"/>
<rect x="427" y="416" width="1" height="4" fill="#32CD32"/>
<rect x="435" y="414" width="1" height="6" fill="#32CD32"/>
<rect x="443" y="416" width="1" height="4" fill="#32CD32"/>
<rect x="451" y="418" width="1" height="2" fill="#32CD32"/>
<rect x="459" y="419" width="1" height="2" fill="#32CD32"/>
<rect x="467" y="419" width="1" height="8" fill="#32CD32"/>
<rect x="475" y="419" width="1" height="11" fill="#32CD32"/>
<rect x="483" y="419" width="1" height="13" fill="#32CD32"/>
<rect x="491" y="419" width="1" height="13" fill="#32CD32"/>
<rect x="499" y="419" width="1" height="18" fill="#32CD32"/>
<rect x="507" y="419" width="1" height="19" fill="#32CD32"/>
<rect x="515" y="419" width="1" height="22" fill="#32CD32"/>
<rect x="523" y="419" width="1" height="24" fill="#32CD32"/>
<rect x="531" y="419" width="1" height="26" fill="#32CD32"/>
<rect x="539" y="419" width="1" height="24" fill="#32CD32"/>
<rect x="547" y="419" width="1" height="21" fill="#32CD32"/>
<rect x="555" y="419" width="1" height="14" fill="#32CD32"/>
<rect x="563" y="419" width="1" height="10" fill="#32CD32"/>
<rect x="571" y="419" width="1" height="6" fill="#32CD32"/>
<rect x="579" y="419" width="1" height="4" fill="#32CD32"/>
<rect x="595" y="419" width="1" height="2" fill="#32CD32"/>
<rect x="611" y="419" width="1" height="2" fill="#32CD32"/>
<rect x="619" y="419" width="1" height="2" fill="#32CD32"/>
<rect x="627" y="419" width="1" height="3" fill="#32CD32"/>
<rect x="635" y="419" width="1" height="6" fill="#32CD32"/>
<rect x="643" y="419" width="1" height="8" fill="#32CD32"/>
<rect x="651" y="419" width="1" height="8" fill="#32CD32"/>
<rect x="659" y="419" width="1" height="11" fill="#32CD32"/>
<rect x="667" y="419" width="1" height="13" fill="#32CD32"/>
<rect x="675" y="419" width="1" height="14" fill="#32CD32"/>
<rect x="683" y="419" width="1" height="13" fill="#32CD32"/>
<rect x="691" y="419" width="1" height="10" fill="#32CD32"/>
<rect x="699" y="419" width="1" height="7" fill="#32CD32"/>
<rect x="707" y="419" width="1" height="2" fill="#32CD32"/>
<rect x="715" y="418" width="1" height="2" fill="#32CD32"/>
<rect x="723" y="414" width="1" height="6" fill="#32CD32"/>
<rect x="731" y="413" width="1" height="7" fill="#32CD32"/>
<rect x="739" y="413" width="1" height="7" fill="#32CD32"/>
</g>
<g shape-rendering="crispEdges" stroke-linejoin="round">
<path d="M3 397h2v1h-2zM5 398h4v1h-4zM9 399h4v1h-4zM13 400h4v1h-4zM17 401h4v1h-4zM21 402h4v1h-4zM25 403h3v1h-3zM28 404h2v1h-2zM30 405h2v1h-2zM32 406h2v1h-2zM34 407h2v1h-2zM36 408h2v1h-2zM38 409h2v1h-2zM40 410h2v1h-2zM42 411h2v1h-2zM44 412h2v1h-2zM46 413h2v1h-2zM48 414h2v1h-2zM50 415h2v1h-2zM52 416h2v1h-2zM54 417h2v1h-2zM56 418h3v1h-3zM59 419h4v1h-4zM63 420h3v1h-3zM66 421h4v1h-4zM70 422h4v1h-4zM74 423h4v1h-4zM78 424h4v1h-4zM82 425h4v1h-4zM86 426h4v1h-4zM90 427h4v1h-4zM94 428h4v1h-4zM98 429h9v1h-9zM107 430h51v1h-51zM158 429h3v1h-3zM161 428h10v1h-10zM171 429h14v1h-14zM185 430h10v1h-10zM195 431h11v1h-11zM206 432h10v1h-10zM216 433h8v1h-8zM224 434h8v1h-8zM232 435h7v1h-7zM239 436h6v1h-6zM245 437h6v1h-6zM251 438h7v1h-7zM258 439h6v1h-6zM264 440h7v1h-7zM271 441h6v1h-6zM277 442h7v1h-7zM284 443h7v1h-7zM291 444h6v1h-6zM297 445h6v1h-6zM303 446h47v1h-47zM350 445h11v1h-11zM361 444h6v1h-6zM367 443h6v1h-6zM373 442h6v1h-6zM379 441h7v1h-7zM386 440h6v1h-6zM392 439h5v1h-5zM397 438h4v1h-4zM401 437h3v1h-3zM404 436h3v1h-3zM407 435h4v1h-4zM411 434h3v1h-3zM414 433h2v1h-2zM416 432h2v1h-2zM418 431h3v1h-3zM421 430h2v1h-2zM423 429h2v1h-2zM425 428h3v1h-3zM428 427h2v1h-2zM430 426h3v1h-3zM433 425h3v1h-3zM436 424h4v1h-4zM440 423h4v1h-4zM444 422h4v1h-4zM448 421h35v1h-35zM483 422h6v1h-6zM489 423h4v1h-4zM493 424h4v1h-4zM497 425h3v1h-3zM500 426h3v1h-3zM503 427h3v1h-3zM506 428h3v1h-3zM509 429h3v1h-3zM512 430h3v1h-3zM515 431h3v1h-3zM518 432h3v1h-3zM521 433h3v1h-3zM524 434h3v1h-3zM527 435h4v1h-4zM531 436h4v1h-4zM535 437h6v1h-6zM541 438h25v1h-25zM566 437h6v1h-6zM572 436h6v1h-6zM578 435h4v1h-4zM582 434h4v1h-4zM586 433h3v1h-3zM589 432h3v1h-3zM592 431h3v1h-3zM595 430h3v1h-3zM598 429h3v1h-3zM601 428h3v1h-3zM604 427h3v1h-3zM607 426h3v1h-3zM610 425h3v1h-3zM613 424h6v1h-6zM619 423h7v1h-7zM626 422h17v1h-17zM643 423h11v1h-11zM654 424h8v1h-8zM662 425h9v1h-9zM671 426h7v1h-7zM678 427h6v1h-6zM684 428h28v1h-28zM712 427h9v1h-9zM721 426h6v1h-6zM727 425h5v1h-5zM732 424h4v1h-4zM736 423h1v1h-1zM737 422h2v1h-2z" fill="#FF0000"/>
<path d="M3 511h3v1h-3zM6 510h4v1h-4zM10 509h4v1h-4zM14 510h4v1h-4zM18 511h6v1h-6zM24 510h5v1h-5zM29 511h2v1h-2zM31 512h3v1h-3zM34 513h4v1h-4zM38 512h4v1h-4zM42 511h4v1h-4zM46 510h4v1h-4zM50 509h1v1h-1zM51 508h1v2h-1zM52 506h1v2h-1zM53 504h1v2h-1zM54 502h1v2h-1zM55 500h1v2h-1zM56 498h1v2h-1zM57 496h1v2h-1zM58 494h1v2h-1zM59 493h1v1h-1zM60 492h1v1h-1zM61 491h2v1h-2zM63 490h1v1h-1zM64 489h2v1h-2zM66 488h3v1h-3zM69 489h2v1h-2zM71 490h1v1h-1zM72 491h2v1h-2zM74 492h1v1h-1zM75 493h1v1h-1zM76 494h1v2h-1zM77 496h1v2h-1zM78 498h1v1h-1zM79 499h1v2h-1zM80 501h1v2h-1zM81 503h1v1h-1zM82 504h1v2h-1zM83 506h1v2h-1zM84 508h8v1h-8zM92 507h2v1h-2zM94 506h3v1h-3zM97 505h2v1h-2zM99 504h3v1h-3zM102 503h2v1h-2zM104 502h2v1h-2zM106 501h2v1h-2zM108 500h2v1h-2zM110 499h2v1h-2zM112 498h1v1h-1zM113 497h2v1h-2zM115 496h1v1h-1zM116 495h1v1h-1zM117 494h1v1h-1zM118 492h1v2h-1zM119 491h1v1h-1zM120 490h1v1h-1zM121 489h1v1h-1zM122 488h1v1h-1zM123 487h2v1h-2zM125 486h1v1h-1zM126 485h2v1h-2zM128 484h2v1h-2zM130 483h4v1h-4zM134 484h2v1h-2zM136 485h2v1h-2zM138 486h2v1h-2zM140 487h1v1h-1zM141 488h1v2h-1zM142 490h1v1h-1zM143 491h1v1h-1zM144 492h1v1h-1zM145 493h1v1h-1zM146 494h1v1h-1zM147 495h1v1h-1zM148 496h2v1h-2zM150 495h4v1h-4zM154 494h4v1h-4zM158 493h11v1h-11zM169 494h3v1h-3zM172 495h1v2h-1zM173 497h1v1h-1zM174 498h1v2h-1zM175 500h1v1h-1zM176 501h1v1h-1zM177 502h1v2h-1zM178 504h1v1h-1zM179 505h4v1h-4zM183 506h4v1h-4zM187 505h1v1h-1zM188 504h2v1h-2zM190 503h1v1h-1zM191 502h1v1h-1zM192 501h2v1h-2zM194 500h1v1h-1zM195 499h1v1h-1zM196 498h1v1h-1zM197 497h2v1h-2zM199 496h1v1h-1zM200 495h2v1h-2zM202 494h2v1h-2zM204 493h18v1h-18zM222 492h2v1h-2zM224 491h2v1h-2zM226 490h2v1h-2zM228 489h1v1h-1zM229 488h1v1h-1zM230 487h2v1h-2zM232 486h1v1h-1zM233 485h1v1h-1zM234 484h1v1h-1zM235 483h3v1h-3zM238 484h4v1h-4zM242 485h2v1h-2zM244 485h1v2h-1zM245 487h1v2h-1zM246 489h1v1h-1zM247 490h1v2h-1zM248 492h1v2h-1zM249 494h1v2h-1zM250 496h1v2h-1zM251 498h1v1h-1zM252 499h1v2h-1zM253 501h1v1h-1zM254 502h1v2h-1zM255 504h1v1h-1zM256 505h1v2h-1zM257 507h1v1h-1zM258 508h1v2h-1zM259 510h2v1h-2zM261 509h3v1h-3zM264 508h4v1h-4zM268 507h1v1h-1zM269 506h1v1h-1zM270 505h1v1h-1zM271 504h1v1h-1zM272 503h1v1h-1zM273 502h1v1h-1zM274 501h1v1h-1zM275 500h1v1h-1zM276 499h5v1h-5zM281 498h4v1h-4zM285 499h4v1h-4zM289 500h4v1h-4zM293 499h3v1h-3zM296 498h3v1h-3zM299 497h1v2h-1zM300 496h1v1h-1zM301 495h1v1h-1zM302 494h1v1h-1zM303 492h1v2h-1zM304 491h1v1h-1zM305 490h1v1h-1zM306 489h1v1h-1zM307 487h1v2h-1zM308 486h1v1h-1zM309 485h1v1h-1zM310 484h1v1h-1zM311 483h1v1h-1zM312 481h1v2h-1zM313 480h1v1h-1zM314 479h1v1h-1zM315 478h3v1h-3zM318 479h5v1h-5zM323 480h1v1h-1zM324 481h1v1h-1zM325 482h1v1h-1zM326 483h1v1h-1zM327 484h1v1h-1zM328 485h1v2h-1zM329 487h1v1h-1zM330 488h1v1h-1zM331 489h1v1h-1zM332 490h2v1h-2zM334 491h2v1h-2zM336 492h2v1h-2zM338 493h4v1h-4zM342 492h4v1h-4zM346 491h4v1h-4zM350 492h5v1h-5zM355 493h9v1h-9zM364 492h3v1h-3zM367 491h3v1h-3zM370 490h1v1h-1zM371 489h1v2h-1zM372 487h1v2h-1zM373 485h1v2h-1zM374 483h1v2h-1zM375 481h1v2h-1zM376 479h1v2h-1zM377 477h1v2h-1zM378 476h1v1h-1zM379 475h2v1h-2zM381 476h2v1h-2zM383 477h2v1h-2zM385 478h2v1h-2zM387 479h2v1h-2zM389 478h2v1h-2zM391 477h2v1h-2zM393 476h2v1h-2zM395 475h8v1h-8zM403 474h1v2h-1zM404 473h1v1h-1zM405 471h1v2h-1zM406 470h1v1h-1zM407 468h1v2h-1zM408 467h1v1h-1zM409 465h1v2h-1zM410 464h1v1h-1zM411 463h3v1h-3zM414 464h5v1h-5zM419 465h4v1h-4zM423 466h3v1h-3zM426 467h5v1h-5zM431 468h5v1h-5zM436 469h1v1h-1zM437 470h1v1h-1zM438 471h1v1h-1zM439 472h2v1h-2zM441 473h1v1h-1zM442 474h1v1h-1zM443 475h1v2h-1zM444 477h1v1h-1zM445 478h1v2h-1zM446 480h1v1h-1zM447 481h1v2h-1zM448 483h1v1h-1zM449 484h1v2h-1zM450 486h1v2h-1zM451 488h1v1h-1zM452 489h1v2h-1zM453 491h1v2h-1zM454 493h1v2h-1zM455 495h1v2h-1zM456 497h1v2h-1zM457 499h1v2h-1zM458 501h1v2h-1zM459 503h1v1h-1zM460 504h1v1h-1zM461 505h1v1h-1zM462 506h1v2h-1zM463 508h1v1h-1zM464 509h1v1h-1zM465 510h1v2h-1zM466 512h1v1h-1zM467 513h4v1h-4zM471 514h8v1h-8zM479 515h6v1h-6zM485 514h3v1h-3zM488 513h9v1h-9zM497 514h3v1h-3zM500 513h2v1h-2zM502 512h2v1h-2zM504 511h1v1h-1zM505 510h2v1h-2zM507 509h8v1h-8zM515 510h1v1h-1zM516 509h4v1h-4zM520 508h5v1h-5zM525 509h1v1h-1zM526 510h2v1h-2zM528 511h1v1h-1zM529 512h2v1h-2zM531 513h1v1h-1zM532 512h1v1h-1zM533 511h1v1h-1zM534 510h2v1h-2zM536 509h1v1h-1zM537 508h1v1h-1zM538 507h1v1h-1zM539 504h1v3h-1zM540 502h1v2h-1zM541 499h1v3h-1zM542 497h1v2h-1zM543 494h1v3h-1zM544 491h1v3h-1zM545 489h1v2h-1zM546 486h1v3h-1zM547 484h1v2h-1zM548 481h1v3h-1zM549 479h1v2h-1zM550 477h1v2h-1zM551 474h1v3h-1zM552 472h1v2h-1zM553 469h1v3h-1zM554 467h1v2h-1zM555 466h2v1h-2zM557 465h2v1h-2zM559 464h2v1h-2zM561 463h5v1h-5zM566 464h2v1h-2zM568 465h2v1h-2zM570 466h2v1h-2zM572 467h2v1h-2zM574 468h2v1h-2zM576 469h2v1h-2zM578 470h11v1h-11zM589 471h4v1h-4zM593 472h4v1h-4zM597 473h2v1h-2zM599 474h3v1h-3zM602 475h1v1h-1zM603 475h1v2h-1zM604 477h1v1h-1zM605 478h1v2h-1zM606 480h1v1h-1zM607 481h1v2h-1zM608 483h1v1h-1zM609 484h1v2h-1zM610 486h1v2h-1zM611 488h1v1h-1zM612 489h1v1h-1zM613 490h1v2h-1zM614 492h1v1h-1zM615 493h1v2h-1zM616 495h1v1h-1zM617 496h1v2h-1zM618 498h1v1h-1zM619 499h1v1h-1zM620 500h1v2h-1zM621 502h1v1h-1zM622 503h1v1h-1zM623 504h1v1h-1zM624 505h1v2h-1zM625 507h1v1h-1zM626 508h1v1h-1zM627 509h11v1h-11zM638 510h5v1h-5zM643 511h1v1h-1zM644 510h5v1h-5zM649 509h4v1h-4zM653 510h2v1h-2zM655 511h3v1h-3zM658 512h13v1h-13zM671 513h5v1h-5zM676 512h1v1h-1zM677 511h1v1h-1zM678 510h1v1h-1zM679 509h1v1h-1zM680 508h1v1h-1zM681 507h1v1h-1zM682 506h1v1h-1zM683 504h1v2h-1zM684 503h1v1h-1zM685 501h1v2h-1zM686 500h1v1h-1zM687 498h1v2h-1zM688 497h1v1h-1zM689 495h1v2h-1zM690 494h1v1h-1zM691 491h1v3h-1zM692 489h1v2h-1zM693 487h1v2h-1zM694 485h1v2h-1zM695 483h1v2h-1zM696 480h1v3h-1zM697 478h1v2h-1zM698 476h1v2h-1zM699 474h1v2h-1zM700 472h1v2h-1zM701 470h1v2h-1zM702 468h1v2h-1zM703 466h1v2h-1zM704 464h1v2h-1zM705 462h1v2h-1zM706 460h1v2h-1zM707 459h5v1h-5zM712 458h5v1h-5zM717 459h2v1h-2zM719 460h3v1h-3zM722 461h2v1h-2zM724 462h1v1h-1zM725 463h2v1h-2zM727 464h1v1h-1zM728 465h1v1h-1zM729 466h1v1h-1zM730 467h1v1h-1zM731 468h2v1h-2zM733 469h1v1h-1zM734 470h2v1h-2zM736 471h1v1h-1zM737 472h2v1h-2z" fill="#00FF00"/>
<path d="M3 508h3v1h-3zM6 509h6v1h-6zM12 510h22v1h-22zM34 511h6v1h-6zM40 512h8v1h-8zM48 511h4v1h-4zM52 510h1v1h-1zM53 509h1v1h-1zM54 508h2v1h-2zM56 507h1v1h-1zM57 506h1v1h-1zM58 505h1v1h-1zM59 504h1v1h-1zM60 503h1v1h-1zM61 502h1v1h-1zM62 501h1v1h-1zM63 500h1v1h-1zM64 499h1v1h-1zM65 498h1v1h-1zM66 497h1v1h-1zM67 496h2v1h-2zM69 495h2v1h-2zM71 494h2v1h-2zM73 493h2v1h-2zM75 492h2v1h-2zM77 493h2v1h-2zM79 494h2v1h-2zM81 495h2v1h-2zM83 496h2v1h-2zM85 497h1v1h-1zM86 498h1v1h-1zM87 499h1v1h-1zM88 500h1v1h-1zM89 501h1v1h-1zM90 502h1v1h-1zM91 503h3v1h-3zM94 504h3v1h-3zM97 505h2v1h-2zM99 506h5v1h-5zM104 505h5v1h-5zM109 504h2v1h-2zM111 503h2v1h-2zM113 502h2v1h-2zM115 501h1v1h-1zM116 500h1v1h-1zM117 499h2v1h-2zM119 498h1v1h-1zM120 497h1v1h-1zM121 496h1v1h-1zM122 495h2v1h-2zM124 494h1v1h-1zM125 493h2v1h-2zM127 492h1v1h-1zM128 491h1v1h-1zM129 490h2v1h-2zM131 489h2v1h-2zM133 488h3v1h-3zM136 487h2v1h-2zM138 486h3v1h-3zM141 487h2v1h-2zM143 488h3v1h-3zM146 489h2v1h-2zM148 490h2v1h-2zM150 491h3v1h-3zM153 492h2v1h-2zM155 493h5v1h-5zM160 494h13v1h-13zM173 495h2v1h-2zM175 496h2v1h-2zM177 497h2v1h-2zM179 498h2v1h-2zM181 499h2v1h-2zM183 500h1v1h-1zM184 501h2v1h-2zM186 502h4v1h-4zM190 503h5v1h-5zM195 502h3v1h-3zM198 501h3v1h-3zM201 500h2v1h-2zM203 499h2v1h-2zM205 498h2v1h-2zM207 497h2v1h-2zM209 496h2v1h-2zM211 495h5v1h-5zM216 494h6v1h-6zM222 493h4v1h-4zM226 492h3v1h-3zM229 491h3v1h-3zM232 490h4v1h-4zM236 489h2v1h-2zM238 488h2v1h-2zM240 487h2v1h-2zM242 486h3v1h-3zM245 487h2v1h-2zM247 488h3v1h-3zM250 489h2v1h-2zM252 490h1v1h-1zM253 491h1v1h-1zM254 492h1v1h-1zM255 493h1v1h-1zM256 494h1v1h-1zM257 495h1v1h-1zM258 496h1v2h-1zM259 498h1v1h-1zM260 499h1v1h-1zM261 500h1v1h-1zM262 501h1v1h-1zM263 502h1v1h-1zM264 503h1v1h-1zM265 504h1v1h-1zM266 505h1v1h-1zM267 506h10v1h-10zM277 505h2v1h-2zM279 504h2v1h-2zM281 503h2v1h-2zM283 502h3v1h-3zM286 501h4v1h-4zM290 500h6v1h-6zM296 499h5v1h-5zM301 498h3v1h-3zM304 497h2v1h-2zM306 496h2v1h-2zM308 495h1v1h-1zM309 494h1v1h-1zM310 493h1v1h-1zM311 492h1v1h-1zM312 491h1v1h-1zM313 490h1v1h-1zM314 489h1v1h-1zM315 488h1v1h-1zM316 487h2v1h-2zM318 486h1v1h-1zM319 485h1v1h-1zM320 484h2v1h-2zM322 483h1v1h-1zM323 482h8v1h-8zM331 483h2v1h-2zM333 484h2v1h-2zM335 485h2v1h-2zM337 486h2v1h-2zM339 487h1v1h-1zM340 488h2v1h-2zM342 489h2v1h-2zM344 490h2v1h-2zM346 491h4v1h-4zM350 492h5v1h-5zM355 493h9v1h-9zM364 492h5v1h-5zM369 491h3v1h-3zM372 490h2v1h-2zM374 489h2v1h-2zM376 488h1v1h-1zM377 487h2v1h-2zM379 486h1v1h-1zM380 485h2v1h-2zM382 484h2v1h-2zM384 483h1v1h-1zM385 482h2v1h-2zM387 481h2v1h-2zM389 480h2v1h-2zM391 479h2v1h-2zM393 478h2v1h-2zM395 477h5v1h-5zM400 476h4v1h-4zM404 475h2v1h-2zM406 474h2v1h-2zM408 473h1v1h-1zM409 472h2v1h-2zM411 471h2v1h-2zM413 470h2v1h-2zM415 469h2v1h-2zM417 468h2v1h-2zM419 467h3v1h-3zM422 466h4v1h-4zM426 465h5v1h-5zM431 466h5v1h-5zM436 467h2v1h-2zM438 468h2v1h-2zM440 469h2v1h-2zM442 470h2v1h-2zM444 471h1v1h-1zM445 472h1v1h-1zM446 473h1v1h-1zM447 474h1v1h-1zM448 475h1v1h-1zM449 476h1v1h-1zM450 477h1v1h-1zM451 478h1v1h-1zM452 479h1v1h-1zM453 480h1v2h-1zM454 482h1v1h-1zM455 483h1v2h-1zM456 485h1v1h-1zM457 486h1v2h-1zM458 488h1v1h-1zM459 489h1v2h-1zM460 491h1v1h-1zM461 492h1v2h-1zM462 494h1v1h-1zM463 495h1v2h-1zM464 497h1v1h-1zM465 498h1v2h-1zM466 500h1v1h-1zM467 501h1v1h-1zM468 502h1v1h-1zM469 503h1v1h-1zM470 504h1v2h-1zM471 506h1v1h-1zM472 507h1v1h-1zM473 508h1v1h-1zM474 509h1v1h-1zM475 510h1v1h-1zM476 511h2v1h-2zM478 512h2v1h-2zM480 513h2v1h-2zM482 514h20v1h-20zM502 513h4v1h-4zM506 512h6v1h-6zM512 511h6v1h-6zM518 510h4v1h-4zM522 509h5v1h-5zM527 510h9v1h-9zM536 509h4v1h-4zM540 508h1v1h-1zM541 507h1v1h-1zM542 506h1v1h-1zM543 505h1v1h-1zM544 504h1v1h-1zM545 503h1v1h-1zM546 502h1v1h-1zM547 500h1v2h-1zM548 498h1v2h-1zM549 496h1v2h-1zM550 495h1v1h-1zM551 493h1v2h-1zM552 491h1v2h-1zM553 489h1v2h-1zM554 487h1v2h-1zM555 485h1v2h-1zM556 483h1v2h-1zM557 481h1v2h-1zM558 480h1v1h-1zM559 478h1v2h-1zM560 476h1v2h-1zM561 474h1v2h-1zM562 472h1v2h-1zM563 471h1v1h-1zM564 470h1v1h-1zM565 469h2v1h-2zM567 468h1v1h-1zM568 467h1v1h-1zM569 466h1v1h-1zM570 465h9v1h-9zM579 466h4v1h-4zM583 467h4v1h-4zM587 468h4v1h-4zM591 469h3v1h-3zM594 470h3v1h-3zM597 471h2v1h-2zM599 472h3v1h-3zM602 473h2v1h-2zM604 474h1v1h-1zM605 475h2v1h-2zM607 476h1v1h-1zM608 477h1v1h-1zM609 478h2v1h-2zM611 479h1v1h-1zM612 480h1v2h-1zM613 482h1v1h-1zM614 483h1v1h-1zM615 484h1v1h-1zM616 485h1v2h-1zM617 487h1v1h-1zM618 488h1v1h-1zM619 489h1v1h-1zM620 490h1v2h-1zM621 492h1v1h-1zM622 493h1v1h-1zM623 494h1v1h-1zM624 495h1v2h-1zM625 497h1v1h-1zM626 498h1v1h-1zM627 499h1v1h-1zM628 500h1v1h-1zM629 501h1v1h-1zM630 502h1v1h-1zM631 503h1v1h-1zM632 504h1v1h-1zM633 505h1v1h-1zM634 506h1v1h-1zM635 507h2v1h-2zM637 508h4v1h-4zM641 509h12v1h-12zM653 510h4v1h-4zM657 511h13v1h-13zM670 512h5v1h-5zM675 513h1v1h-1zM676 512h3v1h-3zM679 511h3v1h-3zM682 510h2v1h-2zM684 509h2v1h-2zM686 508h1v1h-1zM687 507h1v1h-1zM688 506h2v1h-2zM690 505h1v1h-1zM691 503h1v2h-1zM692 502h1v1h-1zM693 500h1v2h-1zM694 498h1v2h-1zM695 496h1v2h-1zM696 495h1v1h-1zM697 493h1v2h-1zM698 491h1v2h-1zM699 489h1v2h-1zM700 488h1v1h-1zM701 486h1v2h-1zM702 484h1v2h-1zM703 482h1v2h-1zM704 481h1v1h-1zM705 479h1v2h-1zM706 477h1v2h-1zM707 476h1v1h-1zM708 474h1v2h-1zM709 473h1v1h-1zM710 471h1v2h-1zM711 470h1v1h-1zM712 468h1v2h-1zM713 467h1v1h-1zM714 465h1v2h-1zM715 464h1v1h-1zM716 463h2v1h-2zM718 462h2v1h-2zM720 461h1v1h-1zM721 460h2v1h-2zM723 459h2v1h-2zM725 460h2v1h-2zM727 461h3v1h-3zM730 462h2v1h-2zM732 463h2v1h-2zM734 464h1v1h-1zM735 465h2v1h-2zM737 466h2v1h-2z" fill="#FF0000"/>
</g>
<polyline points="3.5,553.5 11.5,553.5 20.5,555.0 27.5,555.0 35.5,557.0 43.5,555.5 51.5,555.5 59.5,550.0 67.5,553.5 75.5,556.5 83.5,556.5 91.5,554.5 100.5,554.5 107.5,554.0 115.5,550.5 123.5,550.0 131.5,551.5 139.5,554.0 147.5,554.5 155.5,551.5 163.5,553.5 171.5,557.0 179.5,560.5 187.5,557.5 195.5,555.5 203.5,556.5 211.5,556.5 219.5,554.5 227.5,554.5 235.5,554.5 243.5,558.5 251.5,563.5 259.5,560.5 267.5,558.5 275.5,558.5 283.5,559.0 291.5,559.0 299.5,555.5 307.5,555.0 315.5,554.5 323.5,558.5 331.5,558.5 339.5,555.5 347.5,555.5 355.5,557.5 363.5,553.5 371.5,551.5 379.5,548.5 387.5,553.5 395.5,547.5 403.5,547.0 411.5,545.5 419.5,545.5 427.5,547.5 435.5,547.5 443.5,550.5 451.5,555.5 459.5,556.5 467.5,556.5 475.5,557.0 483.5,557.0 491.5,555.5 499.5,560.5 507.5,557.0 515.5,557.5 523.5,559.0 531.5,559.0 539.5,554.0 547.5,548.5 555.5,547.0 563.5,547.0 571.5,547.5 579.5,548.5 587.5,548.5 595.5,549.5 603.5,550.5 611.5,551.5 619.5,551.5 627.5,554.0 635.5,555.5 643.5,555.5 651.5,555.5 659.5,558.5 667.5,558.5 675.5,557.0 683.5,550.5 691.5,550.5 699.5,547.5 707.5,543.5 715.5,542.5 723.5,542.5 731.5,546.5 739.5,546.5" fill="none" stroke="#32CD32" stroke-width="2" stroke-linejoin="round" shape-rendering="crispEdges"/>
<polygon points="5.5,9 13.5,9 9.5,13" fill="#000"/>
<g class="tx">
<text x="763.7" y="22.5" textLength="31" lengthAdjust="spacingAndGlyphs" fill="#000" text-anchor="start">106.750</text>
<text x="763.7" y="55.5" textLength="31" lengthAdjust="spacingAndGlyphs" fill="#000" text-anchor="start">106.640</text>
<text x="763.7" y="89.5" textLength="31" lengthAdjust="spacingAndGlyphs" fill="#000" text-anchor="start">106.535</text>
<text x="763.7" y="122.5" textLength="31" lengthAdjust="spacingAndGlyphs" fill="#000" text-anchor="start">106.430</text>
<text x="763.7" y="156.5" textLength="31" lengthAdjust="spacingAndGlyphs" fill="#000" text-anchor="start">106.320</text>
<text x="763.7" y="189.5" textLength="31" lengthAdjust="spacingAndGlyphs" fill="#000" text-anchor="start">106.215</text>
<text x="763.7" y="223.5" textLength="31" lengthAdjust="spacingAndGlyphs" fill="#000" text-anchor="start">106.105</text>
</g>
<rect x="760" y="221" width="39" height="11" fill="#000" shape-rendering="crispEdges"/>
<g class="tx"><text x="763.7" y="229.8" textLength="31" lengthAdjust="spacingAndGlyphs" fill="#fff">106.087</text></g>
<g class="tx">
<text x="763.7" y="256.5" textLength="31" lengthAdjust="spacingAndGlyphs" fill="#000" text-anchor="start">106.000</text>
<text x="763.7" y="289.5" textLength="31" lengthAdjust="spacingAndGlyphs" fill="#000" text-anchor="start">105.895</text>
<text x="763.7" y="323.5" textLength="31" lengthAdjust="spacingAndGlyphs" fill="#000" text-anchor="start">105.785</text>
<text x="763.7" y="356.5" textLength="31" lengthAdjust="spacingAndGlyphs" fill="#000" text-anchor="start">105.680</text>
<text x="763.7" y="390.5" textLength="31" lengthAdjust="spacingAndGlyphs" fill="#000" text-anchor="start">105.570</text>
<text x="17.8" y="13.5" textLength="50.2" lengthAdjust="spacingAndGlyphs" fill="#000" text-anchor="start">USDJPY,H1</text>
<text x="75.9" y="13.5" textLength="31.2" lengthAdjust="spacingAndGlyphs" fill="#000" text-anchor="start">106.093</text>
<text x="112.0" y="13.5" textLength="31.2" lengthAdjust="spacingAndGlyphs" fill="#000" text-anchor="start">106.098</text>
<text x="148.10000000000002" y="13.5" textLength="31.2" lengthAdjust="spacingAndGlyphs" fill="#000" text-anchor="start">106.081</text>
<text x="184.20000000000002" y="13.5" textLength="31.2" lengthAdjust="spacingAndGlyphs" fill="#000" text-anchor="start">106.087</text>
<text x="6.3" y="405.8" textLength="130.7" lengthAdjust="spacingAndGlyphs" fill="#000" text-anchor="start">MACD(12,26,9) 0.0387 -0.0111</text>
<text x="6.3" y="466.8" textLength="122" lengthAdjust="spacingAndGlyphs" fill="#000" text-anchor="start">Stoch(8,3,3) 71.3826 81.2663</text>
<text x="6.3" y="535" textLength="68" lengthAdjust="spacingAndGlyphs" fill="#000" text-anchor="start">RSI(13) 57.0211</text>
<text x="761" y="404.2" textLength="26.7" lengthAdjust="spacingAndGlyphs" fill="#000" text-anchor="start">0.1262</text>
<text x="760.5" y="422.8" textLength="17.5" lengthAdjust="spacingAndGlyphs" fill="#000" text-anchor="start">0.00</text>
<text x="761.3" y="449.2" textLength="29.7" lengthAdjust="spacingAndGlyphs" fill="#000" text-anchor="start">-0.1638</text>
<text x="762" y="464.7" textLength="13" lengthAdjust="spacingAndGlyphs" fill="#000" text-anchor="start">100</text>
<text x="760.5" y="472" textLength="9.3" lengthAdjust="spacingAndGlyphs" fill="#000" text-anchor="start">80</text>
<text x="760.5" y="511" textLength="9.3" lengthAdjust="spacingAndGlyphs" fill="#000" text-anchor="start">20</text>
<text x="762" y="516.5" textLength="4.6" lengthAdjust="spacingAndGlyphs" fill="#000" text-anchor="start">0</text>
<text x="762" y="532.5" textLength="13" lengthAdjust="spacingAndGlyphs" fill="#000" text-anchor="start">100</text>
<text x="762" y="544" textLength="9.3" lengthAdjust="spacingAndGlyphs" fill="#000" text-anchor="start">70</text>
<text x="762" y="566" textLength="9.3" lengthAdjust="spacingAndGlyphs" fill="#000" text-anchor="start">30</text>
<text x="762" y="575.3" textLength="4.6" lengthAdjust="spacingAndGlyphs" fill="#000" text-anchor="start">0</text>
<text x="2.5" y="591.8" textLength="50.8" lengthAdjust="spacingAndGlyphs" fill="#000" text-anchor="start">13 Mar 2018</text>
<text x="66.5" y="591.8" textLength="52.8" lengthAdjust="spacingAndGlyphs" fill="#000" text-anchor="start">14 Mar 03:00</text>
<text x="130.5" y="591.8" textLength="52.8" lengthAdjust="spacingAndGlyphs" fill="#000" text-anchor="start">14 Mar 11:00</text>
<text x="194.5" y="591.8" textLength="52.8" lengthAdjust="spacingAndGlyphs" fill="#000" text-anchor="start">14 Mar 19:00</text>
<text x="258.5" y="591.8" textLength="52.8" lengthAdjust="spacingAndGlyphs" fill="#000" text-anchor="start">15 Mar 03:00</text>
<text x="322.5" y="591.8" textLength="52.8" lengthAdjust="spacingAndGlyphs" fill="#000" text-anchor="start">15 Mar 11:00</text>
<text x="386.5" y="591.8" textLength="52.8" lengthAdjust="spacingAndGlyphs" fill="#000" text-anchor="start">15 Mar 19:00</text>
<text x="450.5" y="591.8" textLength="52.8" lengthAdjust="spacingAndGlyphs" fill="#000" text-anchor="start">16 Mar 03:00</text>
<text x="514.5" y="591.8" textLength="52.8" lengthAdjust="spacingAndGlyphs" fill="#000" text-anchor="start">16 Mar 11:00</text>
<text x="578.5" y="591.8" textLength="52.8" lengthAdjust="spacingAndGlyphs" fill="#000" text-anchor="start">16 Mar 19:00</text>
<text x="642.5" y="591.8" textLength="52.8" lengthAdjust="spacingAndGlyphs" fill="#000" text-anchor="start">19 Mar 04:00</text>
<text x="706.5" y="591.8" textLength="52.8" lengthAdjust="spacingAndGlyphs" fill="#000" text-anchor="start">19 Mar 12:00</text>
</g>
</svg>
</body></html>
